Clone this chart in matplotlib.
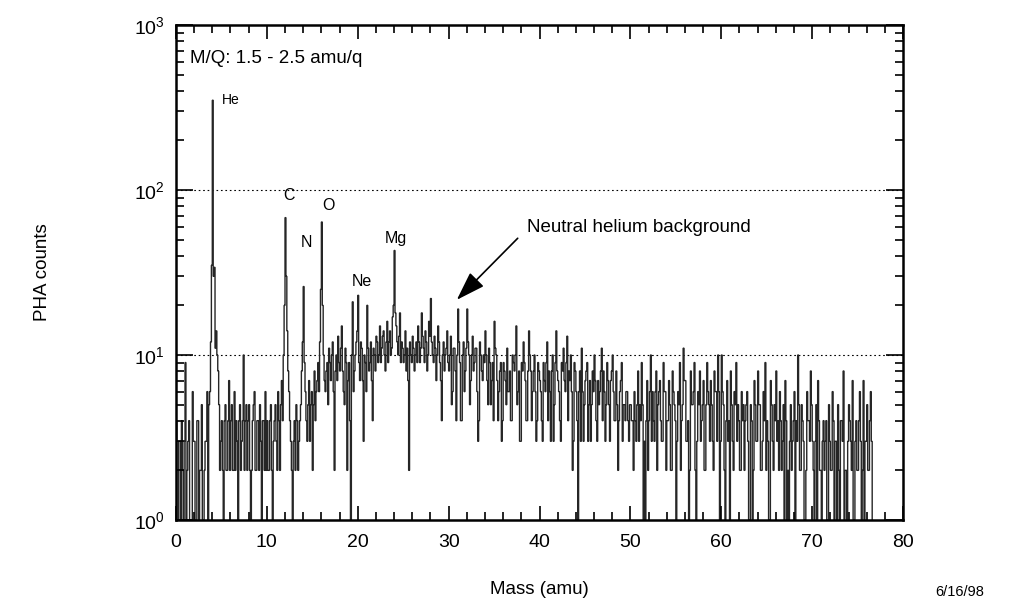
import numpy as np
import matplotlib
matplotlib.use("Agg")
import matplotlib.pyplot as plt
from matplotlib.ticker import MultipleLocator, LogLocator, NullFormatter

plt.rcParams['font.family'] = ['Liberation Sans', 'DejaVu Sans']

# Fine bins of 0.1 amu starting at 0 amu.
# "a" arrays: bins starting at 0.0, 0.2, 0.4 ... ; "b" arrays: bins starting at 0.1, 0.3, ...
bin_width = 0.1
counts_a_00_10 = [4, 1, 3, 4, 1, 9, 2, 4, 1, 6, 3, 1, 4, 2, 5, 1, 3, 6, 5, 12,
                  350, 34, 14, 8, 2, 4, 1, 5, 2, 7, 4, 2, 6, 4, 1, 5, 3, 10, 4, 2,
                  5, 1, 4, 6, 2, 4, 5, 1, 4, 6]
counts_b_00_10 = [1, 3, 1, 2, 3, 1, 3, 1, 1, 3, 1, 4, 1, 2, 1, 2, 3, 1, 6, 35,
                  30, 11, 10, 5, 3, 2, 4, 2, 4, 2, 5, 2, 2, 3, 4, 2, 4, 2, 5, 4,
                  2, 2, 5, 2, 4, 2, 3, 4, 2, 2]
counts_a_10_20 = [4, 2, 5, 1, 4, 3, 6, 2, 7, 10, 68, 14, 6, 3, 1, 4, 5, 2, 4, 8,
                  26, 6, 3, 7, 5, 2, 8, 6, 9, 12, 64, 10, 6, 9, 11, 7, 12, 2, 10, 13,
                  8, 15, 6, 11, 2, 9, 1, 21, 8, 12]
counts_b_10_20 = [2, 4, 2, 3, 5, 2, 4, 5, 4, 20, 30, 8, 4, 2, 3, 2, 4, 3, 5, 12,
                  9, 4, 5, 3, 6, 5, 4, 7, 6, 25, 20, 7, 8, 5, 9, 10, 6, 8, 7, 9,
                  11, 8, 5, 9, 7, 4, 10, 6, 10, 14]
counts_a_20_30 = [23, 7, 11, 3, 9, 20, 8, 12, 4, 10, 13, 9, 15, 11, 14, 8, 16, 12, 10, 17,
                  43, 15, 10, 18, 12, 9, 14, 11, 2, 10, 13, 8, 12, 15, 9, 18, 11, 14, 8, 16,
                  22, 10, 13, 7, 15, 9, 4, 12, 10, 14]
counts_b_20_30 = [9, 12, 7, 10, 6, 11, 9, 7, 11, 8, 12, 10, 9, 13, 10, 12, 9, 14, 11, 20,
                  18, 12, 13, 9, 11, 10, 8, 7, 12, 9, 11, 10, 9, 12, 11, 13, 9, 12, 10, 13,
                  12, 9, 11, 10, 12, 7, 10, 8, 11, 9]
counts_a_30_40 = [8, 13, 6, 11, 4, 19, 9, 4, 12, 8, 19, 10, 7, 13, 9, 11, 3, 12, 8, 10,
                  14, 7, 11, 5, 9, 16, 10, 4, 8, 3, 9, 7, 11, 6, 4, 10, 8, 15, 6, 3,
                  9, 12, 7, 4, 14, 8, 6, 10, 3, 9]
counts_b_30_40 = [10, 5, 11, 8, 10, 12, 4, 10, 6, 11, 12, 5, 10, 8, 11, 6, 4, 10, 7, 9,
                  10, 5, 9, 7, 4, 11, 7, 6, 9, 4, 8, 5, 6, 8, 4, 9, 10, 5, 8, 3,
                  8, 9, 4, 8, 10, 4, 8, 6, 4, 8]
counts_a_40_50 = [7, 4, 9, 6, 12, 8, 3, 10, 5, 14, 7, 4, 9, 11, 6, 13, 8, 10, 2, 9,
                  6, 1, 8, 11, 3, 7, 9, 5, 3, 8, 10, 4, 7, 6, 11, 8, 3, 9, 5, 7,
                  10, 4, 8, 2, 6, 9, 5, 4, 6, 3]
counts_b_40_50 = [6, 3, 7, 9, 4, 6, 8, 3, 9, 8, 6, 3, 8, 7, 9, 4, 7, 6, 3, 8,
                  4, 6, 3, 6, 5, 8, 3, 7, 5, 6, 7, 3, 5, 8, 4, 6, 5, 7, 3, 8,
                  6, 4, 5, 4, 7, 3, 5, 6, 4, 5]
counts_a_50_60 = [5, 4, 6, 3, 8, 5, 9, 1, 1, 7, 4, 10, 6, 3, 8, 5, 7, 3, 9, 6,
                  4, 7, 2, 8, 5, 1, 6, 9, 4, 11, 7, 3, 1, 8, 5, 9, 1, 6, 8, 4,
                  7, 2, 9, 5, 7, 3, 8, 6, 10, 1]
counts_b_50_60 = [4, 2, 4, 5, 3, 4, 5, 3, 4, 2, 6, 3, 4, 6, 2, 6, 4, 3, 6, 2,
                  4, 5, 2, 6, 4, 3, 5, 2, 5, 7, 3, 4, 2, 5, 6, 2, 3, 5, 3, 5,
                  2, 5, 6, 3, 5, 2, 6, 3, 6, 3]
counts_a_60_70 = [10, 5, 1, 7, 4, 8, 3, 6, 9, 5, 2, 6, 5, 4, 6, 1, 5, 1, 7, 3,
                  8, 5, 2, 6, 9, 4, 1, 7, 3, 5, 8, 4, 6, 2, 5, 7, 1, 1, 5, 3,
                  6, 4, 10, 2, 5, 3, 1, 6, 4, 8]
counts_b_60_70 = [6, 2, 4, 3, 1, 5, 2, 5, 3, 4, 2, 4, 2, 5, 3, 1, 4, 2, 5, 3,
                  5, 2, 3, 4, 2, 3, 1, 5, 2, 4, 3, 2, 4, 3, 1, 4, 2, 3, 2, 4,
                  1, 3, 5, 2, 4, 1, 2, 4, 3, 5]
counts_a_70_77 = [3, 1, 5, 7, 2, 1, 4, 3, 1, 5, 2, 6, 1, 3, 5, 1, 4, 8, 2, 1,
                  5, 3, 7, 1, 4, 2, 6, 1, 7, 3, 5, 2, 6]
counts_b_70_77 = [2, 3, 1, 4, 2, 3, 2, 4, 1, 3, 2, 4, 3, 1, 2, 4, 3, 1, 2, 3,
                  4, 2, 1, 3, 2, 4, 3, 2, 1, 3, 2, 4, 3]

peak_labels = ["He", "C", "N", "O", "Ne", "Mg"]
peak_label_x = [5.0, 12.4, 14.4, 16.8, 20.5, 24.2]
peak_label_y = [350, 92, 48, 81, 28, 51]

x_ticks = [0, 10, 20, 30, 40, 50, 60, 70, 80]

counts_a = np.array(counts_a_00_10 + counts_a_10_20 + counts_a_20_30 + counts_a_30_40 +
                    counts_a_40_50 + counts_a_50_60 + counts_a_60_70 + counts_a_70_77, dtype=float)
counts_b = np.array(counts_b_00_10 + counts_b_10_20 + counts_b_20_30 + counts_b_30_40 +
                    counts_b_40_50 + counts_b_50_60 + counts_b_60_70 + counts_b_70_77, dtype=float)
counts = np.empty(counts_a.size * 2)
counts[0::2] = counts_a
counts[1::2] = counts_b
edges = np.arange(len(counts) + 1) * bin_width

fig = plt.figure(figsize=(10.17, 6.07), dpi=100)
ax = fig.add_axes([0.173, 0.1433, 0.715, 0.8155])

ax.stairs(counts, edges, baseline=0.5, color='#262626', lw=1.0)

ax.set_yscale('log')
ax.set_xlim(0, 80)
ax.set_ylim(1, 1000)

for yv in [10, 100]:
    ax.axhline(yv, color='black', lw=0.8, ls=(0, (1.5, 2.5)), zorder=0)

ax.xaxis.set_major_locator(MultipleLocator(10))
ax.xaxis.set_minor_locator(MultipleLocator(2))
ax.set_xticks(x_ticks)
ax.yaxis.set_major_locator(LogLocator(base=10, numticks=10))
ax.yaxis.set_minor_locator(LogLocator(base=10, subs=np.arange(2, 10), numticks=20))
ax.yaxis.set_minor_formatter(NullFormatter())

ax.tick_params(which='both', direction='in', top=True, right=True, width=1.2,
               labelsize=14, colors='black')
ax.tick_params(axis='x', which='major', length=10, pad=10)
ax.tick_params(axis='y', which='major', length=12, pad=8)
ax.tick_params(which='minor', length=6)
for s in ax.spines.values():
    s.set_linewidth(1.8)

ax.set_xlabel('Mass (amu)', fontsize=13.5, labelpad=22)
ax.set_ylabel('PHA counts', fontsize=13.5, labelpad=60)

ax.text(1.54, 631, 'M/Q: 1.5 - 2.5 amu/q', fontsize=13.5, ha='left', va='center')
for lab, lx, ly in zip(peak_labels, peak_label_x, peak_label_y):
    if lab == "He":
        ax.text(lx, ly, lab, fontsize=10, ha='left', va='center')
    else:
        ax.text(lx, ly, lab, fontsize=11.5, ha='center', va='center')

ax.text(38.6, 58.9, 'Neutral helium background', fontsize=13.5, ha='left', va='center')
ax.annotate('', xy=(30.9, 21.6), xytext=(37.6, 51),
            arrowprops=dict(arrowstyle='-|>,head_length=0.9,head_width=0.3',
                            color='black', lw=1.2, mutation_scale=20,
                            shrinkA=0, shrinkB=0))

fig.text(960 / 1017, 1 - 592 / 607, '6/16/98', fontsize=10.5, ha='center', va='center')

fig.savefig('out.png', dpi=100)
